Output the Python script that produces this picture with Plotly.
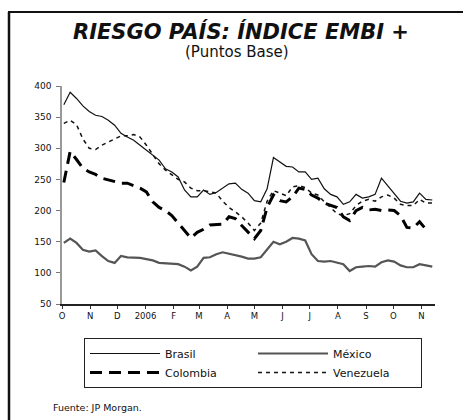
import pandas as pd
import plotly.graph_objects as go

# Weekly observations (Mondays) from 2005-10-03 to 2006-11-13
dates = pd.date_range("2005-10-03", periods=59, freq="7D")

brasil = [370, 390, 380, 368, 359, 353, 351, 345, 337, 324,
          318, 313, 305, 297, 289, 281, 267, 262, 254, 233,
          222, 222, 233, 226, 229, 236, 243, 244, 234, 228,
          216, 214, 235, 285, 278, 271, 270, 262, 262, 250,
          252, 235, 226, 222, 210, 214, 226, 220, 222, 226,
          252, 240, 228, 215, 212, 214, 228, 218, 217]

mexico = [148, 155, 148, 137, 134, 136, 127, 119, 116, 127,
          125, 125, 124, 122, 120, 116, 115, 114, 114, 110,
          104, 110, 124, 125, 130, 133, 131, 128, 126, 123,
          123, 125, 137, 150, 146, 150, 156, 155, 152, 130,
          119, 118, 119, 117, 114, 103, 109, 110, 111, 110,
          117, 120, 118, 112, 109, 109, 114, 112, 110]

colombia = [245, 295, 282, 268, 262, 258, 252, 249, 247, 244,
            244, 240, 236, 230, 214, 205, 200, 192, 180, 167,
            156, 165, 170, 177, 177, 178, 190, 187, 176, 165,
            155, 168, 205, 225, 216, 214, 222, 236, 234, 225,
            220, 212, 208, 205, 190, 184, 200, 205, 201, 202,
            200, 201, 200, 192, 173, 172, 182, 170, None]

venezuela = [340, 345, 338, 315, 300, 298, 305, 310, 315, 320,
             320, 322, 318, 305, 290, 275, 265, 258, 250, 246,
             236, 232, 232, 230, 228, 215, 205, 198, 190, 180,
             168, 180, 215, 232, 228, 224, 238, 240, 237, 228,
             225, 214, 205, 195, 192, 195, 208, 215, 218, 215,
             222, 225, 220, 210, 208, 208, 218, 212, 212]

tick_dates = ["2005-10-01", "2005-11-01", "2005-12-01", "2006-01-01",
              "2006-02-01", "2006-03-01", "2006-04-01", "2006-05-01",
              "2006-06-01", "2006-07-01", "2006-08-01", "2006-09-01",
              "2006-10-01", "2006-11-01"]
tick_text = ["O", "N", "D", "2006", "F", "M", "A", "M", "J", "J", "A", "S", "O", "N"]
y_ticks = [50, 100, 150, 200, 250, 300, 350, 400]

FONT = "DejaVu Sans, Verdana, sans-serif"

# plot area geometry (px) used to place the decorations in paper units
L, T, W, H = 62, 86, 373, 218
def px(xp):
    return (xp - L) / W
def py(yp):
    return (T + H - yp) / H

fig = go.Figure()
fig.add_trace(go.Scatter(x=dates, y=brasil, name="Brasil", mode="lines",
                         line=dict(color="#111", width=1.2)))
fig.add_trace(go.Scatter(x=dates, y=mexico, name="México", mode="lines",
                         line=dict(color="#555", width=2.2)))
fig.add_trace(go.Scatter(x=dates, y=colombia, name="Colombia", mode="lines",
                         line=dict(color="#000", width=3, dash="12px,7px")))
fig.add_trace(go.Scatter(x=dates, y=venezuela, name="Venezuela", mode="lines",
                         line=dict(color="#111", width=1.5, dash="4px,4px")))

fig.update_layout(
    width=463, height=420,
    margin=dict(l=L, r=463 - L - W, t=T, b=420 - T - H),
    paper_bgcolor="white", plot_bgcolor="white",
    font=dict(family=FONT, color="#111"),
    showlegend=True,
    legend=dict(
        orientation="h", x=px(84), y=py(338), xanchor="left", yanchor="top",
        bordercolor="#222", borderwidth=1, bgcolor="white",
        entrywidth=83, entrywidthmode="pixels", itemwidth=70,
        font=dict(size=11, family=FONT, color="#111"),
        tracegroupgap=0,
    ),
    xaxis=dict(
        range=["2005-10-01", "2006-11-16"],
        tickvals=tick_dates, ticktext=tick_text,
        tickfont=dict(size=8.5, family=FONT, color="#111"),
        ticks="outside", ticklen=3, tickcolor="#333",
        showline=True, linecolor="#222", linewidth=1.5,
        showgrid=False, zeroline=False, tickangle=0,
    ),
    yaxis=dict(
        range=[50, 400], tickvals=y_ticks,
        tickfont=dict(size=9, family=FONT, color="#111"),
        ticks="outside", ticklen=4, tickcolor="#777",
        ticklabelstandoff=3,
        showline=True, linecolor="#999", linewidth=1.5,
        showgrid=False, zeroline=False,
    ),
    annotations=[
        dict(text="<b><i>RIESGO PAÍS: ÍNDICE EMBI +</i></b>", xref="paper", yref="paper",
             x=px(241), y=py(31), xanchor="center", yanchor="middle",
             showarrow=False, font=dict(size=21, family=FONT, color="#111")),
        dict(text="(Puntos Base)", xref="paper", yref="paper",
             x=px(237), y=py(52), xanchor="center", yanchor="middle",
             showarrow=False, font=dict(size=15, family=FONT, color="#111")),
        dict(text="Fuente: JP Morgan.", xref="paper", yref="paper",
             x=px(51), y=py(407), xanchor="left", yanchor="middle",
             showarrow=False, font=dict(size=9.5, family=FONT, color="#111")),
    ],
    shapes=[
        dict(type="line", xref="paper", yref="paper",
             x0=px(9), x1=px(9), y0=py(12), y1=py(430),
             line=dict(color="#111", width=2.5)),
        dict(type="line", xref="paper", yref="paper",
             x0=px(8), x1=px(470), y0=py(12), y1=py(12),
             line=dict(color="#111", width=2)),
    ],
)

fig.write_html("out.html", config={"displayModeBar": False},
               post_script="document.body.style.margin='0';")
